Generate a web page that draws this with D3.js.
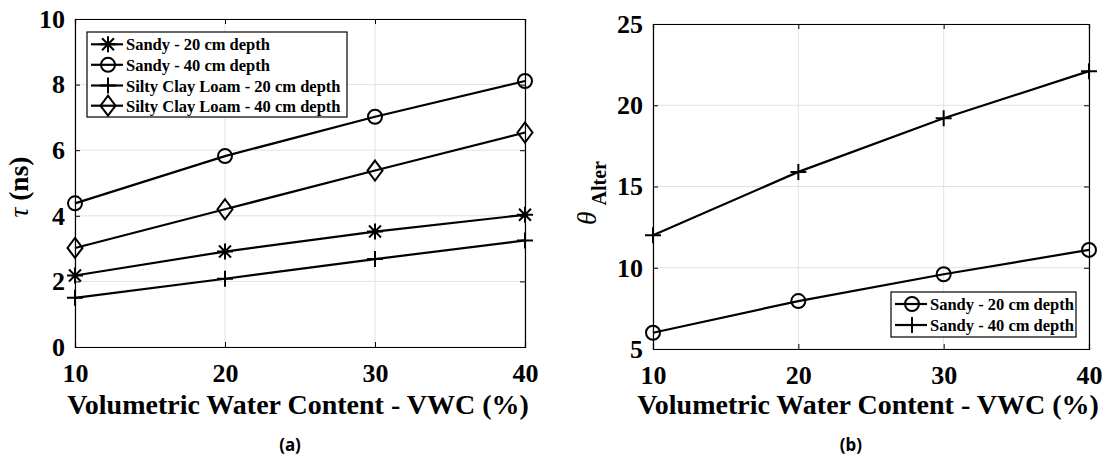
<!DOCTYPE html>
<html>
<head>
<meta charset="utf-8">
<script src="https://cdn.jsdelivr.net/npm/d3@7"></script>
<style>
  body { margin: 0; background: #fff; }
  svg { display: block; }
  .tick text { font-family: "Liberation Serif", "Times New Roman", serif; font-weight: bold; }
</style>
</head>
<body>
<div id="chart"></div>
<script>
// x values (VWC %)
var vwc = [10, 20, 30, 40];
var vwcTicks = [10, 20, 30, 40];

// panel (a) - tau (ns)
var tauSandy20 = [2.18, 2.91, 3.52, 4.03];
var tauSandy40 = [4.38, 5.82, 7.02, 8.11];
var tauSilty20 = [1.50, 2.08, 2.68, 3.25];
var tauSilty40 = [3.02, 4.20, 5.38, 6.54];
var tauTicks = [0, 2, 4, 6, 8, 10];

// panel (b) - theta Alter
var thetaSandy20 = [6.0, 7.95, 9.6, 11.1];
var thetaSandy40 = [12.0, 15.9, 19.2, 22.1];
var thetaTicks = [5, 10, 15, 20, 25];

var serif = '"Liberation Serif", "Times New Roman", serif';

var svg = d3.select("#chart").append("svg")
  .attr("width", 1107)
  .attr("height", 464);

// draw a MATLAB-like marker
function marker(g, type, cx, cy) {
  var m = g.append("g").attr("transform", "translate(" + cx + "," + cy + ")")
    .attr("fill", "none").attr("stroke", "#000").attr("stroke-width", 2);
  if (type === "circle") {
    m.append("circle").attr("r", 7);
  } else if (type === "plus") {
    m.append("path").attr("d", "M-8,0H8M0,-8V8");
  } else if (type === "star") {
    m.append("path").attr("d", "M-8,0H8M0,-8V8M-6,-6L6,6M-6,6L6,-6");
  } else if (type === "diamond") {
    m.append("path").attr("d", "M0,-10L7.5,0L0,10L-7.5,0Z");
  }
}

function panel(opt) {
  var x = d3.scaleLinear().domain([10, 40]).range([opt.left, opt.right]);
  var y = d3.scaleLinear().domain(opt.yDomain).range([opt.bottom, opt.top]);
  var g = svg.append("g");

  // grid
  g.append("g").selectAll("line").data(vwcTicks).enter().append("line")
    .attr("x1", function(d) { return x(d); }).attr("x2", function(d) { return x(d); })
    .attr("y1", opt.top).attr("y2", opt.bottom)
    .attr("stroke", "#e2e2e2").attr("stroke-width", 1);
  g.append("g").selectAll("line").data(opt.yTicks).enter().append("line")
    .attr("y1", function(d) { return y(d); }).attr("y2", function(d) { return y(d); })
    .attr("x1", opt.left).attr("x2", opt.right)
    .attr("stroke", "#e2e2e2").attr("stroke-width", 1);

  // axes
  var xb = g.append("g").attr("transform", "translate(0," + opt.bottom + ")")
    .call(d3.axisBottom(x).tickValues(vwcTicks).tickSize(-5).tickPadding(17).tickFormat(d3.format("d")));
  var xt = g.append("g").attr("transform", "translate(0," + opt.top + ")")
    .call(d3.axisTop(x).tickValues(vwcTicks).tickSize(-5).tickFormat(""));
  var yl = g.append("g").attr("transform", "translate(" + opt.left + ",0)")
    .call(d3.axisLeft(y).tickValues(opt.yTicks).tickSize(-5).tickPadding(10).tickFormat(d3.format("d")));
  var yr = g.append("g").attr("transform", "translate(" + opt.right + ",0)")
    .call(d3.axisRight(y).tickValues(opt.yTicks).tickSize(-5).tickFormat(""));
  [xb, xt, yl, yr].forEach(function(a) {
    a.select(".domain").attr("stroke", "#000").attr("stroke-width", 1.2);
    a.selectAll(".tick line").attr("stroke", "#000");
    a.selectAll(".tick text").attr("font-size", 26).attr("fill", "#000");
  });

  // series
  var line = d3.line().x(function(d, i) { return x(vwc[i]); }).y(function(d) { return y(d); });
  opt.series.forEach(function(s) {
    g.append("path").datum(s.values).attr("d", line)
      .attr("fill", "none").attr("stroke", "#000").attr("stroke-width", 2.2);
    s.values.forEach(function(v, i) { marker(g, s.marker, x(vwc[i]), y(v)); });
  });

  // legend
  var lg = g.append("g");
  lg.append("rect").attr("x", opt.legend.x0).attr("y", opt.legend.y0)
    .attr("width", opt.legend.x1 - opt.legend.x0).attr("height", opt.legend.y1 - opt.legend.y0)
    .attr("fill", "#fff").attr("stroke", "#000").attr("stroke-width", 1.2);
  opt.series.forEach(function(s, i) {
    var ly = opt.legend.rows[i];
    lg.append("line").attr("x1", opt.legend.x0 + 4).attr("x2", opt.legend.x0 + 36)
      .attr("y1", ly).attr("y2", ly).attr("stroke", "#000").attr("stroke-width", 2.2);
    marker(lg, s.marker, opt.legend.x0 + 21, ly);
    lg.append("text").attr("x", opt.legend.x0 + 39).attr("y", ly + 6)
      .attr("font-family", serif).attr("font-weight", "bold").attr("font-size", 16.5)
      .text(s.name);
  });

  // x title
  g.append("text").attr("x", (opt.left + opt.right) / 2 + opt.titleShift).attr("y", 414)
    .attr("text-anchor", "middle").attr("font-family", serif).attr("font-weight", "bold")
    .attr("font-size", 28).text("Volumetric Water Content - VWC (%)");

  // caption
  g.append("text").attr("x", opt.caption).attr("y", 451)
    .attr("text-anchor", "middle").attr("font-family", '"Noto Sans", "DejaVu Sans", sans-serif').attr("font-weight", "bold")
    .attr("font-size", 17).text(opt.captionText);

  return g;
}

var ga = panel({
  left: 75, right: 525, top: 19, bottom: 347,
  yDomain: [0, 10], yTicks: tauTicks,
  series: [
    {name: "Sandy - 20 cm depth", values: tauSandy20, marker: "star"},
    {name: "Sandy - 40 cm depth", values: tauSandy40, marker: "circle"},
    {name: "Silty Clay Loam - 20 cm depth", values: tauSilty20, marker: "plus"},
    {name: "Silty Clay Loam - 40 cm depth", values: tauSilty40, marker: "diamond"}
  ],
  legend: {x0: 87, x1: 347, y0: 32, y1: 117, rows: [44.3, 64.8, 85.5, 105.7]},
  titleShift: -2, caption: 290, captionText: "(a)"
});

var gb = panel({
  left: 653, right: 1089, top: 24, bottom: 349,
  yDomain: [5, 25], yTicks: thetaTicks,
  series: [
    {name: "Sandy - 20 cm depth", values: thetaSandy20, marker: "circle"},
    {name: "Sandy - 40 cm depth", values: thetaSandy40, marker: "plus"}
  ],
  legend: {x0: 891, x1: 1076, y0: 292, y1: 337, rows: [304, 325]},
  titleShift: -3, caption: 851, captionText: "(b)"
});

// y titles
var ta = ga.append("text").attr("transform", "translate(28,187) rotate(-90)")
  .attr("text-anchor", "middle").attr("font-family", serif).attr("font-size", 27.5);
ta.append("tspan").attr("font-style", "italic").text("\u03c4");
ta.append("tspan").attr("font-weight", "bold").text(" (ns)");

var tb = gb.append("text").attr("transform", "translate(596,193) rotate(-90)")
  .attr("text-anchor", "middle").attr("font-family", serif).attr("font-size", 27.5);
tb.append("tspan").attr("font-style", "italic").text("\u03b8");
tb.append("tspan").attr("font-weight", "bold").attr("font-size", 20).attr("dy", 10).attr("dx", 6).text("Alter");
</script>
</body>
</html>
